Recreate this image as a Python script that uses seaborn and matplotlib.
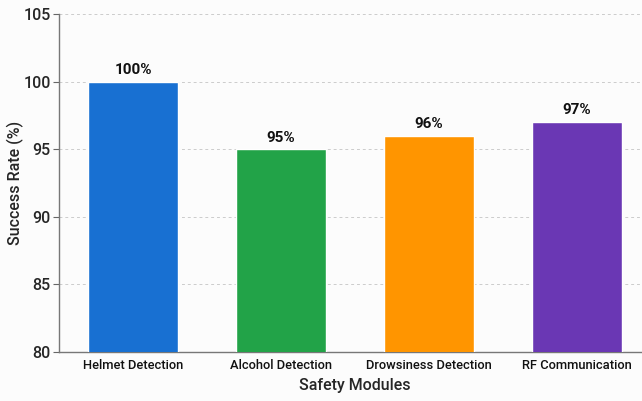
import matplotlib
matplotlib.use("Agg")
import matplotlib.pyplot as plt
import seaborn as sns
import pandas as pd

modules = ["Helmet Detection", "Alcohol Detection", "Drowsiness Detection", "RF Communication"]
success_rate = [100, 95, 96, 97]
bar_colors = ["#1870d2", "#22a348", "#ff9500", "#6a37b4"]
y_ticks = [80, 85, 90, 95, 100, 105]

sns.set_theme(style="white")
plt.rcParams["font.family"] = ["Roboto", "DejaVu Sans"]

df = pd.DataFrame({"Module": modules, "Rate": success_rate})

fig = plt.figure(figsize=(6.42, 4.01), dpi=100, facecolor="#fcfcfc")
ax = fig.add_axes([0.092, 0.122, 0.922, 0.843])
ax.set_facecolor("#fcfcfc")

sns.barplot(data=df, x="Module", y="Rate", hue="Module", palette=bar_colors,
            saturation=1, width=0.61, legend=False, ax=ax, zorder=3)

ax.set_ylim(80, 105)
ax.set_xlim(-0.5, 3.5)
ax.set_yticks(y_ticks)
ax.set_yticklabels([str(t) for t in y_ticks], fontsize=11.5, fontweight="medium")
ax.tick_params(axis="x", length=0, pad=5)
ax.tick_params(axis="y", length=4, width=0.8, color="#666666", left=True, pad=2)
ax.set_xticks(range(len(modules)))
ax.set_xticklabels(modules, fontsize=9.3, fontweight="medium", color="#111111")

ax.yaxis.grid(True, linestyle=(0, (3, 3)), color="#cccccc", linewidth=0.7, zorder=0)
ax.set_axisbelow(True)

for s in ["top", "right"]:
    ax.spines[s].set_visible(False)
for s in ["left", "bottom"]:
    ax.spines[s].set_color("#777777")
    ax.spines[s].set_linewidth(1.0)

for i, v in enumerate(success_rate):
    ax.text(i, v + 0.35, f"{v}%", ha="center", va="bottom",
            fontsize=11, fontweight="bold", color="#111111")

ax.set_xlabel("Safety Modules", fontsize=11.5, fontweight="medium", labelpad=4)
ax.set_ylabel("Success Rate (%)", fontsize=11.5, fontweight="medium")
ax.yaxis.set_label_coords(-0.06, 0.5)

fig.savefig("out.png", dpi=100, facecolor=fig.get_facecolor())
